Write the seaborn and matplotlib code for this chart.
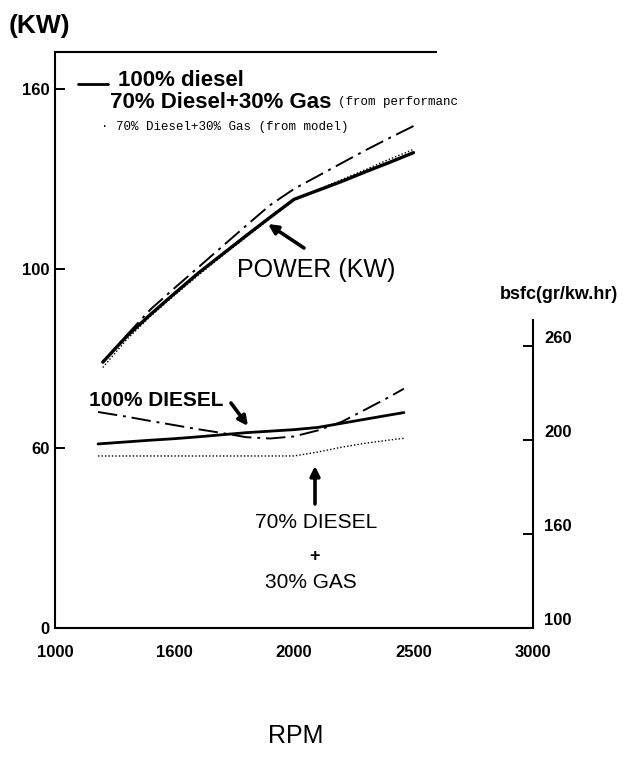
import matplotlib
matplotlib.use("Agg")
import matplotlib.pyplot as plt
from matplotlib.lines import Line2D
import seaborn as sns
import pandas as pd

# ---------------- data ----------------
rpm_power = [1200, 1300, 1400, 1500, 1600, 1700, 1800, 1900, 2000, 2100, 2200, 2300, 2400, 2500]
power_diesel = [74.0, 81.2, 87.3, 93.1, 98.8, 104.0, 109.2, 114.3, 119.3, 121.8, 124.3, 127.0, 129.6, 132.3]
power_dual_perf = [74.0, 81.5, 88.7, 94.6, 100.4, 106.2, 112.0, 117.7, 122.2, 125.8, 129.4, 133.0, 136.4, 139.7]
power_dual_model = [72.5, 80.3, 86.8, 92.6, 98.2, 103.6, 108.8, 114.0, 119.0, 122.0, 124.8, 127.6, 130.5, 133.2]

rpm_bsfc = [1180, 1300, 1400, 1500, 1600, 1700, 1800, 1900, 2000, 2100, 2200, 2300, 2400, 2460]
bsfc_diesel = [197.9, 199.0, 199.9, 200.7, 201.7, 202.8, 203.9, 204.7, 205.5, 206.7, 208.9, 211.1, 213.3, 214.6]
bsfc_dual_perf = [214.9, 212.4, 210.1, 207.9, 205.7, 203.7, 201.5, 200.8, 201.9, 205.1, 209.7, 216.3, 223.0, 227.3]
bsfc_dual_model = [191.5, 191.5, 191.5, 191.5, 191.5, 191.5, 191.5, 191.5, 191.5, 193.6, 196.2, 198.3, 200.0, 200.9]

x_ticks = [1000, 1500, 2000, 2500, 3000]
x_tick_labels = ["1000", "1600", "2000", "2500", "3000"]
left_ticks = [0, 50, 100, 150]
left_tick_labels = ["0", "60", "100", "160"]
right_ticks = [100, 150, 200, 250]
right_tick_labels = ["100", "160", "200", "260"]

legend_labels = ["100% diesel", "70% Diesel+30% Gas", "(from performanc",
                 "\u00b7 70% Diesel+30% Gas (from model)"]

# ---------------- styling ----------------
sns.set_style("white")
plt.rcParams["font.family"] = ["Liberation Sans", "DejaVu Sans"]
plt.rcParams["text.color"] = "black"
plt.rcParams["axes.labelcolor"] = "black"
plt.rcParams["xtick.color"] = "black"
plt.rcParams["ytick.color"] = "black"

W, H = 634, 758
fig = plt.figure(figsize=(W / 100, H / 100), dpi=100)

# axes box in pixel coordinates (left, top, right, bottom)
L, T, R, B = 55, 52, 533, 628
ax = fig.add_axes([L / W, 1 - B / H, (R - L) / W, (B - T) / H])
ax2 = ax.twinx()


def fp(x, y):
    """pixel (from top-left) -> figure fraction"""
    return (x / W, 1 - y / H)


df_p = pd.DataFrame({"rpm": rpm_power, "d": power_diesel,
                     "perf": power_dual_perf, "model": power_dual_model})
df_b = pd.DataFrame({"rpm": rpm_bsfc, "d": bsfc_diesel,
                     "perf": bsfc_dual_perf, "model": bsfc_dual_model})

dashdot = (0, (10, 3, 1.5, 3))
dotted = (0, (1, 1.5))

# power curves (left axis)
sns.lineplot(data=df_p, x="rpm", y="d", ax=ax, color="black", lw=2.4)
sns.lineplot(data=df_p, x="rpm", y="perf", ax=ax, color="black", lw=1.4, linestyle=dashdot)
sns.lineplot(data=df_p, x="rpm", y="model", ax=ax, color="black", lw=1.0, linestyle=dotted)

# bsfc curves (right axis)
sns.lineplot(data=df_b, x="rpm", y="d", ax=ax2, color="black", lw=2.0)
sns.lineplot(data=df_b, x="rpm", y="perf", ax=ax2, color="black", lw=1.4, linestyle=dashdot)
sns.lineplot(data=df_b, x="rpm", y="model", ax=ax2, color="black", lw=1.0, linestyle=dotted)

# scales
ax.set_xlim(1000, 3000)
ax.set_ylim(0, (B - T) / 3.593)
ax2.set_ylim(100, 100 + (B - T) / 1.88)

ax.set_xticks(x_ticks)
ax.set_xticklabels(x_tick_labels)
ax.set_yticks(left_ticks)
ax.set_yticklabels(left_tick_labels)
ax2.set_yticks(right_ticks)
ax2.set_yticklabels(right_tick_labels)

for a in (ax, ax2):
    a.tick_params(direction="in", length=7, width=1.4, labelsize=12, colors="black")
    for lab in a.get_xticklabels() + a.get_yticklabels():
        lab.set_fontweight("bold")
ax.tick_params(axis="x", pad=12)
ax.tick_params(axis="y", pad=4)
ax2.tick_params(axis="y", pad=8)
for lab in ax2.get_yticklabels():
    lab.set_verticalalignment("bottom")

# spines
for s in ("left", "bottom", "top"):
    ax.spines[s].set_color("black")
    ax.spines[s].set_linewidth(1.5)
ax.spines["right"].set_visible(False)
ax.spines["top"].set_bounds(1000, 2596)
for s in ("left", "bottom", "top"):
    ax2.spines[s].set_visible(False)
ax2.spines["right"].set_color("black")
ax2.spines["right"].set_linewidth(1.5)
ax2.spines["right"].set_bounds(100, 264)

# axis labels
ax.set_xlabel("RPM", fontsize=18, color="black")
ax.xaxis.set_label_coords((296 - L) / (R - L), (B - 724) / (B - T))
ax.set_ylabel("(KW)", rotation=0, fontsize=19, fontweight="bold", va="center", ha="center",
              color="black")
ax.yaxis.set_label_coords((39 - L) / (R - L), (B - 26) / (B - T))
ax2.set_ylabel("bsfc(gr/kw.hr)", rotation=0, fontsize=13, fontweight="bold", va="center",
               ha="center", color="black")
ax2.yaxis.set_label_coords((559 - L) / (R - L), (B - 294) / (B - T))

# legend-like header text
fig.add_artist(Line2D([78 / W, 108 / W], [1 - 84 / H, 1 - 84 / H],
                      transform=fig.transFigure, color="black", lw=2.0))
fig.text(*fp(118, 81), legend_labels[0], fontsize=16, fontweight="bold", va="center", ha="left")
fig.text(*fp(110, 103), legend_labels[1], fontsize=16, fontweight="bold", va="center", ha="left")
fig.text(*fp(338, 102), legend_labels[2], fontsize=9, family=["Liberation Mono", "DejaVu Sans Mono"],
         va="center", ha="left")
fig.text(*fp(101, 127), legend_labels[3], fontsize=9, family=["Liberation Mono", "DejaVu Sans Mono"],
         va="center", ha="left")

# annotations
arrow = dict(arrowstyle="-|>", color="black", lw=2.6, mutation_scale=14, shrinkA=0, shrinkB=0)
fig.text(*fp(316, 270), "POWER (KW)", fontsize=18, ha="center", va="center")
ax.annotate("", xy=fp(268, 224), xytext=fp(304, 248), xycoords="figure fraction",
            textcoords="figure fraction", arrowprops=arrow)

fig.text(*fp(156, 401), "100% DIESEL", fontsize=15, fontweight="bold", ha="center", va="center")
ax.annotate("", xy=fp(248, 426), xytext=fp(231, 403), xycoords="figure fraction",
            textcoords="figure fraction", arrowprops=arrow)

ax.annotate("", xy=fp(315, 466), xytext=fp(315, 504), xycoords="figure fraction",
            textcoords="figure fraction", arrowprops=arrow)
fig.text(*fp(316, 523), "70% DIESEL", fontsize=15, ha="center", va="center")
fig.text(*fp(315, 557), "+", fontsize=13, fontweight="bold", ha="center", va="center")
fig.text(*fp(311, 582), "30% GAS", fontsize=15, ha="center", va="center")

fig.savefig("out.png", dpi=100, facecolor="white")
